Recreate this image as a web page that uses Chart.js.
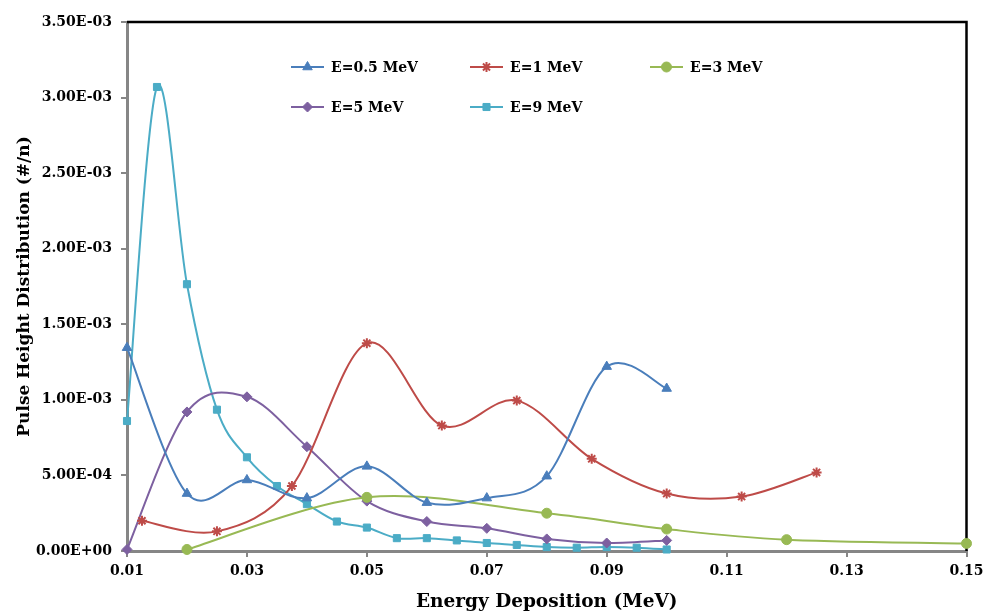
<!DOCTYPE html>
<html>
<head>
<meta charset="utf-8">
<script src="https://cdn.jsdelivr.net/npm/chart.js@4.4.1/dist/chart.umd.min.js"></script>
<style>
  html, body { margin: 0; padding: 0; background: #fff; }
  #wrap { width: 986px; height: 613px; }
</style>
</head>
<body>
<div id="wrap"><canvas id="phdChart"></canvas></div>
<script>
// energy deposition (MeV) and pulse height distribution (#/n) per source energy
const x05 = [0.01, 0.02, 0.03, 0.04, 0.05, 0.06, 0.07, 0.08, 0.09, 0.10];
const y05 = [1.345e-3, 3.8e-4, 4.7e-4, 3.5e-4, 5.6e-4, 3.2e-4, 3.5e-4, 4.95e-4, 1.22e-3, 1.075e-3];

const x1 = [0.0125, 0.025, 0.0375, 0.05, 0.0625, 0.075, 0.0875, 0.10, 0.1125, 0.125];
const y1 = [2.0e-4, 1.3e-4, 4.3e-4, 1.375e-3, 8.3e-4, 9.95e-4, 6.1e-4, 3.8e-4, 3.6e-4, 5.2e-4];

const x3 = [0.02, 0.05, 0.08, 0.10, 0.12, 0.15];
const y3 = [1.0e-5, 3.55e-4, 2.5e-4, 1.45e-4, 7.5e-5, 5.0e-5];

const x5 = [0.01, 0.02, 0.03, 0.04, 0.05, 0.06, 0.07, 0.08, 0.09, 0.10];
const y5 = [1.0e-5, 9.2e-4, 1.02e-3, 6.9e-4, 3.3e-4, 1.95e-4, 1.5e-4, 8.0e-5, 5.3e-5, 7.0e-5];

const x9 = [0.01, 0.015, 0.02, 0.025, 0.03, 0.035, 0.04, 0.045, 0.05, 0.055,
            0.06, 0.065, 0.07, 0.075, 0.08, 0.085, 0.09, 0.095, 0.10];
const y9 = [8.6e-4, 3.07e-3, 1.765e-3, 9.35e-4, 6.2e-4, 4.3e-4, 3.1e-4, 1.95e-4, 1.55e-4, 8.5e-5,
            8.5e-5, 7.0e-5, 5.3e-5, 4.0e-5, 2.6e-5, 2.2e-5, 2.6e-5, 2.2e-5, 1.0e-5];

const seriesNames = ['E=0.5 MeV', 'E=1 MeV', 'E=3 MeV', 'E=5 MeV', 'E=9 MeV'];
const xTickMin = 0.01, xTickMax = 0.15, xTickStep = 0.02;
const yTickMin = 0, yTickMax = 3.5e-3, yTickStep = 5e-4;

const toPoints = (xs, ys) => xs.map((x, i) => ({ x: x, y: ys[i] }));

const fontFamily = '"DejaVu Serif", serif';

function sci(v) {
    if (v === 0) return '0.00E+00';
    const parts = v.toExponential(2).toUpperCase().split('E');
    const exp = parseInt(parts[1], 10);
    const sign = exp < 0 ? '-' : '+';
    return parts[0] + 'E' + sign + String(Math.abs(exp)).padStart(2, '0');
}

function series(label, pts, color, style, radius) {
    return {
        label: label,
        data: pts,
        borderColor: color,
        backgroundColor: color,
        borderWidth: 2,
        pointStyle: style,
        pointRadius: radius,
        pointBorderWidth: style === 'star' ? 2 : 1,
        pointBorderColor: color,
        pointBackgroundColor: color,
        tension: 0.4,
        fill: false,
        clip: false
    };
}

// Excel-like smoothing: uniform Catmull-Rom control points (1/6 of neighbour chord)
const excelSmooth = {
    id: 'excelSmooth',
    beforeDatasetsDraw(chart) {
        chart.data.datasets.forEach((ds, i) => {
            const meta = chart.getDatasetMeta(i);
            const pts = meta.data;
            const n = pts.length;
            for (let k = 0; k < n; k++) {
                const p0 = pts[Math.max(k - 1, 0)];
                const p1 = pts[k];
                const p2 = pts[Math.min(k + 1, n - 1)];
                const tx = (p2.x - p0.x) / 6;
                const ty = (p2.y - p0.y) / 6;
                p1.cp1x = p1.x - tx;
                p1.cp1y = p1.y - ty;
                p1.cp2x = p1.x + tx;
                p1.cp2y = p1.y + ty;
            }
            meta.dataset._pointsUpdated = true;
        });
    }
};

// black frame on the top and right of the plot area
const framePlugin = {
    id: 'frame',
    beforeDatasetsDraw(chart) {
        const a = chart.chartArea;
        const ctx = chart.ctx;
        ctx.save();
        ctx.strokeStyle = '#000';
        ctx.lineWidth = 2.5;
        ctx.beginPath();
        ctx.moveTo(a.left, a.top);
        ctx.lineTo(a.right, a.top);
        ctx.lineTo(a.right, a.bottom);
        ctx.stroke();
        ctx.restore();
    }
};

// legend drawn inside the plot area, three columns
const insideLegend = {
    id: 'insideLegend',
    afterDraw(chart) {
        const ctx = chart.ctx;
        const colX = [291, 470, 650];
        const rowY = [67, 107];
        ctx.save();
        chart.data.datasets.forEach((ds, i) => {
            const x = colX[i % 3];
            const y = rowY[Math.floor(i / 3)];
            ctx.strokeStyle = ds.borderColor;
            ctx.fillStyle = ds.backgroundColor;
            ctx.lineWidth = 2;
            ctx.beginPath();
            ctx.moveTo(x, y);
            ctx.lineTo(x + 33, y);
            ctx.stroke();
            ctx.lineWidth = ds.pointBorderWidth;
            Chart.helpers.drawPoint(ctx, {
                pointStyle: ds.pointStyle,
                radius: ds.pointRadius,
                rotation: 0,
                borderWidth: ds.pointBorderWidth
            }, x + 16.5, y);
            ctx.fillStyle = '#000';
            ctx.font = 'bold 14px ' + fontFamily;
            ctx.textBaseline = 'middle';
            ctx.textAlign = 'left';
            ctx.fillText(ds.label, x + 40, y + 1);
        });
        ctx.restore();
    }
};

const phdCtx = document.getElementById('phdChart').getContext('2d');
const phdChart = new Chart(phdCtx, {
    type: 'line',
    data: {
        datasets: [
            series(seriesNames[0], toPoints(x05, y05), '#4A7EBB', 'triangle', 5.5),
            series(seriesNames[1], toPoints(x1, y1), '#BE4B48', 'star', 5),
            series(seriesNames[2], toPoints(x3, y3), '#98B954', 'circle', 5),
            series(seriesNames[3], toPoints(x5, y5), '#7D60A0', 'rectRot', 5),
            series(seriesNames[4], toPoints(x9, y9), '#4BACC6', 'rect', 5)
        ]
    },
    options: {
        responsive: true,
        maintainAspectRatio: false,
        animation: false,
        layout: { padding: { top: 22, right: 19.5, left: 0, bottom: 0 } },
        plugins: {
            legend: { display: false },
            tooltip: { enabled: false }
        },
        scales: {
            x: {
                type: 'linear',
                min: xTickMin,
                max: xTickMax,
                afterFit(scale) {
                    scale.height = 62;
                    scale.paddingLeft = 0;
                    scale.paddingRight = 0;
                },
                ticks: {
                    stepSize: xTickStep,
                    color: '#000',
                    padding: 6,
                    font: { family: fontFamily, size: 14, weight: 'bold' },
                    callback: v => v.toFixed(2)
                },
                grid: {
                    drawOnChartArea: false,
                    drawTicks: true,
                    tickLength: 6,
                    color: '#868686',
                    lineWidth: 2
                },
                border: { color: '#868686', width: 3 },
                title: {
                    display: true,
                    text: 'Energy Deposition (MeV)',
                    color: '#000',
                    font: { family: fontFamily, size: 18.5, weight: 'bold' },
                    padding: { top: 0, bottom: 0 }
                }
            },
            y: {
                type: 'linear',
                min: yTickMin,
                max: yTickMax,
                afterFit(scale) { scale.width = 127; },
                ticks: {
                    stepSize: yTickStep,
                    color: '#000',
                    padding: 9,
                    font: { family: fontFamily, size: 14, weight: 'bold' },
                    callback: v => sci(v)
                },
                grid: {
                    drawOnChartArea: false,
                    drawTicks: true,
                    tickLength: 6,
                    color: '#868686',
                    lineWidth: 2
                },
                border: { color: '#868686', width: 3 },
                title: {
                    display: true,
                    text: 'Pulse Height Distribution (#/n)',
                    color: '#000',
                    font: { family: fontFamily, size: 17, weight: 'bold' },
                    padding: { top: 14, bottom: 0 }
                }
            }
        }
    },
    plugins: [excelSmooth, framePlugin, insideLegend]
});
</script>
</body>
</html>
